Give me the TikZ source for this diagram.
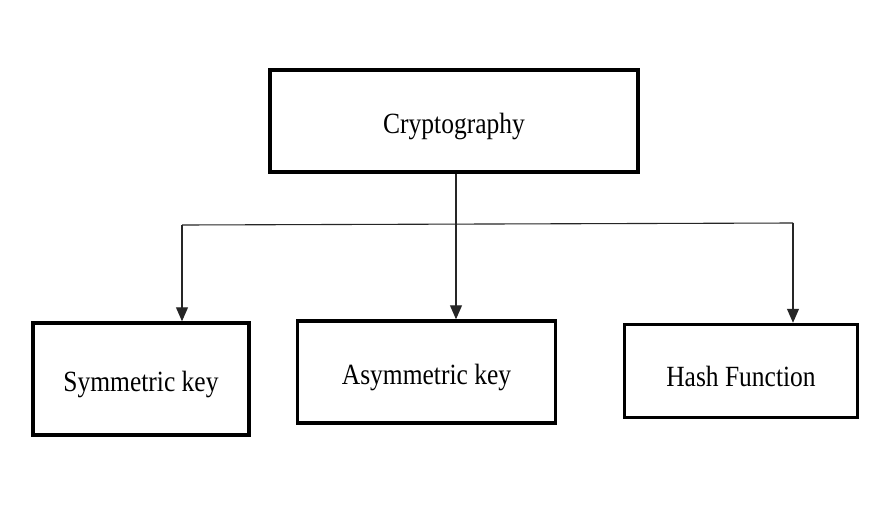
\documentclass[tikz,border=0pt]{standalone}
\usepackage{fontspec}
\setmainfont{Liberation Serif}
\usetikzlibrary{arrows.meta}
\newcommand{\boxtext}[1]{\raisebox{-5pt}[\height][\depth]{\scalebox{1}[1.15]{#1}}}
\begin{document}
\begin{tikzpicture}[x=1pt,y=-1pt,
  box/.style={draw=black,line width=3.5pt,fill=white,inner sep=0pt,
    font=\fontsize{25.5}{30}\selectfont},
  conn/.style={draw=black!85,line width=1.1pt},
  arr/.style={conn,-{Triangle[width=12pt,length=14pt]}}]
\useasboundingbox (0,0) rectangle (892,507);
\fill[white] (0,0) rectangle (892,507);
\node[box,minimum width=368pt,minimum height=102pt] (crypto) at (454,121)
  {\boxtext{Cryptography}};
\node[box,minimum width=216pt,minimum height=112pt] (sym) at (141,379)
  {\boxtext{Symmetric key}};
\node[box,minimum width=258pt,minimum height=102pt] (asym) at (426.5,372)
  {\boxtext{Asymmetric key}};
\node[box,minimum width=233pt,minimum height=93pt] (hash) at (741,371)
  {\boxtext{Hash Function}};
\coordinate (jl) at (182,225);
\coordinate (jr) at (793,223);
\draw[conn] (jl) -- (jr);
\draw[arr] (jl) -- (jl |- sym.north);
\draw[arr] (crypto.south -| 456,0) -- (asym.north -| 456,0);
\draw[arr] (jr) -- (jr |- hash.north);
\end{tikzpicture}
\end{document}
